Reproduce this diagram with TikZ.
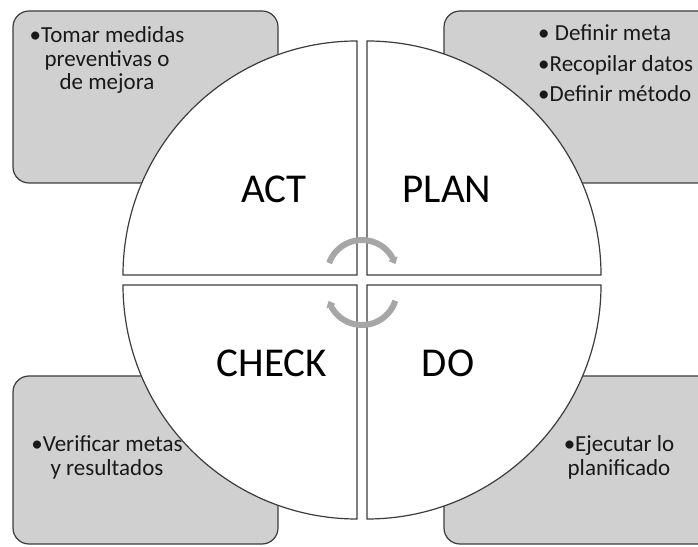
\documentclass[tikz,border=0pt]{standalone}
\usepackage{fontspec}
\setmainfont{Carlito}
\usetikzlibrary{arrows.meta,bending}
\definecolor{boxgray}{HTML}{D0D0D0}
\definecolor{edgegray}{HTML}{3C3C3C}
\definecolor{arrowgray}{HTML}{A6A6A6}
\tikzset{
  sidebox/.style={fill=boxgray,draw=edgegray,line width=1.2pt,rounded corners=16pt},
  quad/.style={fill=white,draw=edgegray,line width=1.2pt},
  biglabel/.style={font=\fontsize{41}{49}\selectfont,text=black,inner sep=0pt,anchor=base},
  bullettext/.style={font=\fontsize{23}{23.5}\selectfont,text=black!90,inner sep=0pt,anchor=base},
  cycarrow/.style={draw=arrowgray,line width=6pt,-{Triangle[width=10pt,length=6pt,bend]}}
}
\begin{document}
\begin{tikzpicture}[x=1pt,y=1pt]
\useasboundingbox (0,0) rectangle (698,546);
\clip (0,0) rectangle (698,546);
% side boxes
\draw[sidebox] (13,535) rectangle (278,363);
\draw[sidebox] (444,535) rectangle (716,363);
\draw[sidebox] (13,170) rectangle (278,2);
\draw[sidebox] (444,170) rectangle (716,2);
% quadrants
\draw[quad] (357,271) -- ++(-234,0) arc[start angle=180,end angle=90,radius=234] -- cycle;
\draw[quad] (367,271) -- ++(0,234) arc[start angle=90,end angle=0,radius=234] -- cycle;
\draw[quad] (357,261) -- ++(-234,0) arc[start angle=180,end angle=270,radius=234] -- cycle;
\draw[quad] (367,261) -- ++(234,0) arc[start angle=0,end angle=-90,radius=234] -- cycle;
% cycle arrows
\coordinate (ctop) at (362,271);
\coordinate (cbot) at (362,256);
\draw[cycarrow] ([shift={(160:35)}]ctop) arc[start angle=160,end angle=18,radius=35];
\draw[cycarrow] ([shift={(-18:35)}]cbot) arc[start angle=-18,end angle=-162,radius=35];
% labels
\node[biglabel] (act) at (274,343) {ACT};
\node[biglabel] (plan) at (447,343) {PLAN};
\node[biglabel] (check) at (272,169) {CHECK};
\node[biglabel] (do) at (448,169) {DO};
% texts (base anchor = last line)
\node[bullettext,align=center] (tacts) at (107,456) {•Tomar medidas\\preventivas o\\de mejora};
\node[bullettext,align=left,anchor=base west,font=\fontsize{23}{30.5}\selectfont] (tplan) at (538,444) {• Definir meta\\•Recopilar datos\\•Definir método};
\node[bullettext,align=center] (tcheck) at (107,71) {•Verificar metas\\y resultados};
\node[bullettext,align=center] (tdo) at (619,71) {•Ejecutar lo\\planificado};
\end{tikzpicture}
\end{document}
